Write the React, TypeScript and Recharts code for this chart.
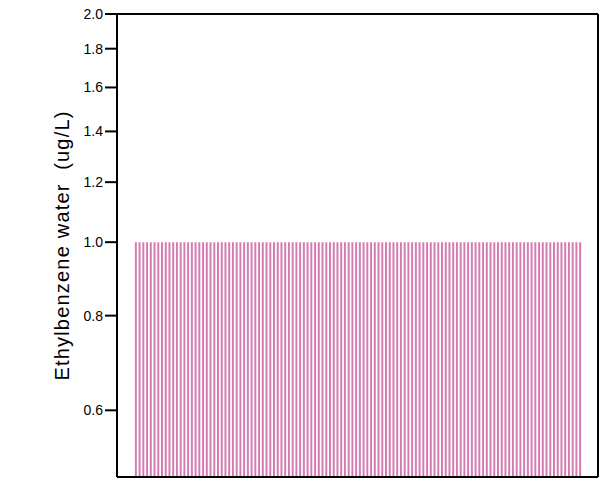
import { BarChart, Bar, XAxis, YAxis, Label, CartesianGrid } from "recharts";

// sample index and measured value (all samples read at 1.0 ug/L)
const sampleIds: number[] = Array.from({ length: 120 }, (_, i) => i + 1);
const values: number[] = sampleIds.map(() => 1.0);
const yTicks = [0.6, 0.8, 1.0, 1.2, 1.4, 1.6, 1.8, 2.0];
const yDomain = [0.49, 2.0];

const data = sampleIds.map((id, i) => ({ id, value: values[i] }));

export default function App() {
  const font = "Arial, 'Liberation Sans', sans-serif";
  return (
    <div style={{ position: "absolute", left: 0, top: 0 }}>
      <BarChart
        width={605}
        height={488}
        data={data}
        margin={{ top: 14, right: 7, bottom: 0, left: 0 }}
        barCategoryGap="23%"
      >
        {/* box round the plot */}
        <CartesianGrid
          stroke="#000"
          strokeWidth={2}
          horizontalCoordinatesGenerator={({ offset }: any) => [offset.top, offset.top + offset.height]}
          verticalCoordinatesGenerator={({ offset }: any) => [offset.left, offset.left + offset.width]}
        />
        <XAxis
          dataKey="id"
          height={11}
          tick={false}
          tickLine={false}
          axisLine={{ stroke: "#000", strokeWidth: 2 }}
          padding={{ left: 17, right: 16 }}
        />
        <YAxis
          type="number"
          scale="log"
          domain={yDomain}
          ticks={yTicks}
          allowDataOverflow
          width={117}
          tickSize={12}
          tickMargin={2}
          tickFormatter={(v: number) => v.toFixed(1)}
          tick={{ fill: "#000", fontSize: 14, fontFamily: font }}
          tickLine={{ stroke: "#000", strokeWidth: 2 }}
          axisLine={{ stroke: "#000", strokeWidth: 2 }}
        >
          <Label
            value={"Ethylbenzene water\u00a0\u00a0(ug/L)"}
            angle={-90}
            position="center"
            dx={3}
            style={{ fill: "#000", fontSize: 20, fontFamily: font, letterSpacing: 1.2 }}
          />
        </YAxis>
        <Bar dataKey="value" fill="#d47cb1" isAnimationActive={false} />
      </BarChart>
    </div>
  );
}
